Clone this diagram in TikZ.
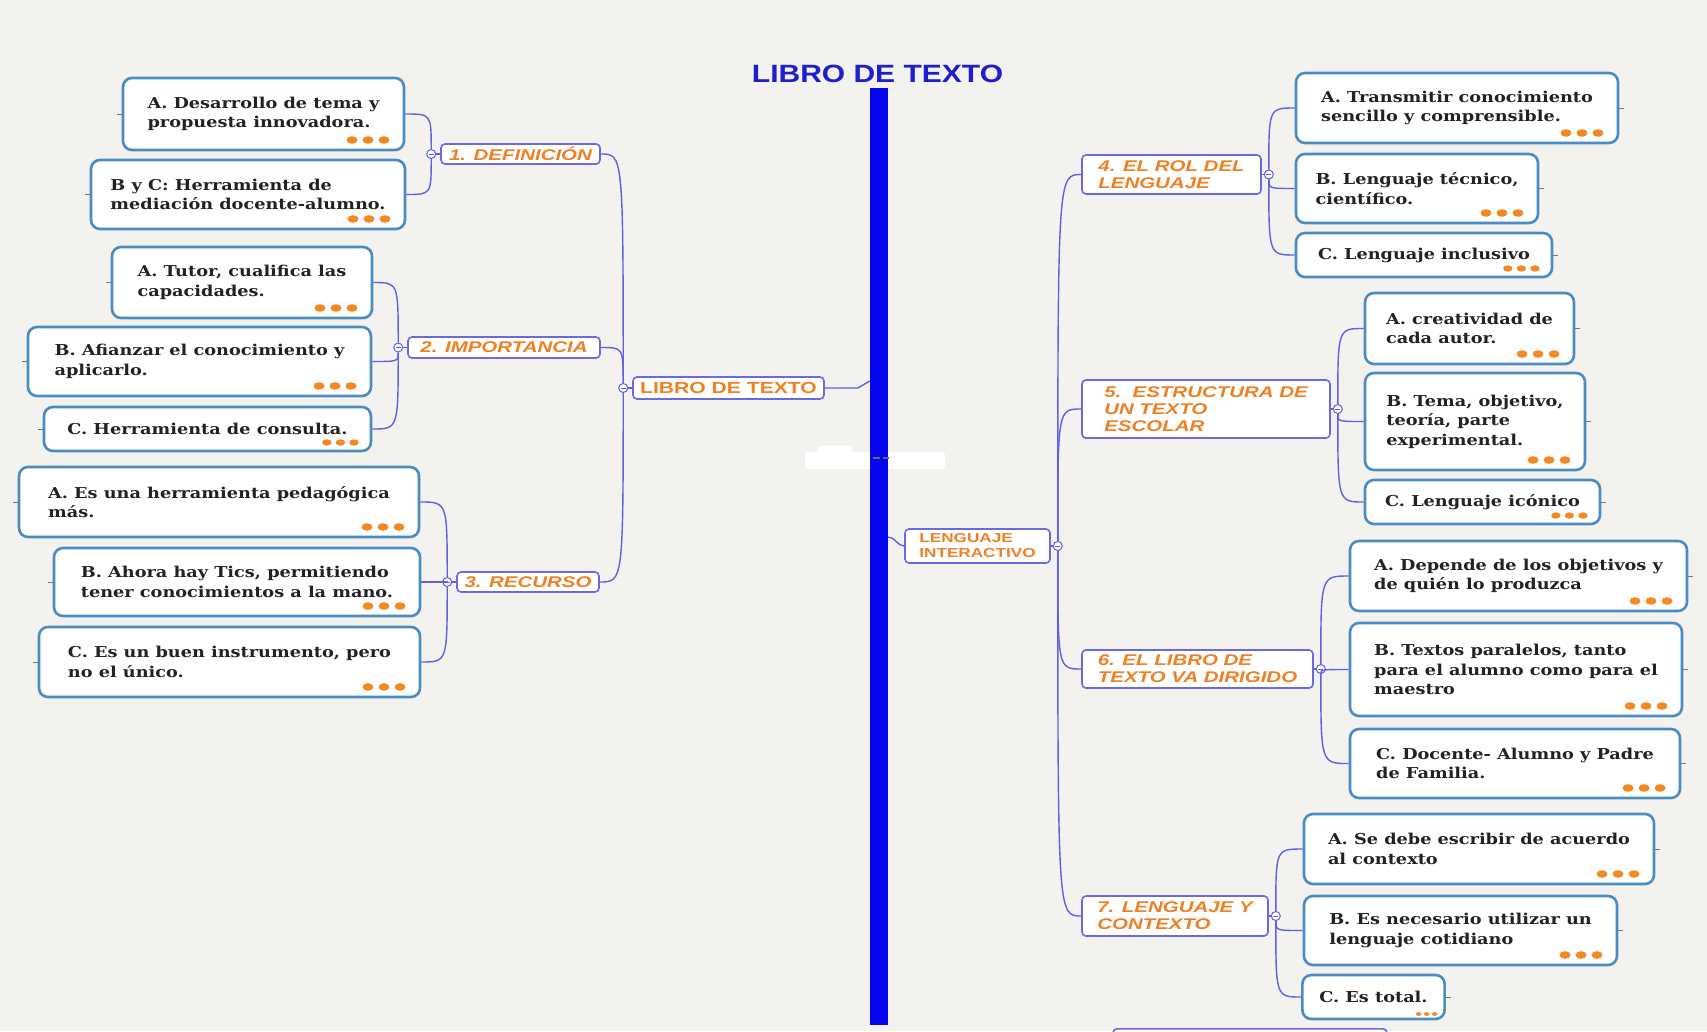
\documentclass[tikz,border=0pt]{standalone}
\usepackage{fontspec}
\newfontfamily\leaffont{DejaVu Serif}[FakeStretch=1.18]
\newfontfamily\mapfont{Liberation Sans}[FakeStretch=1.32]
\newfontfamily\titlefont{Liberation Sans}[FakeStretch=1.2]
\definecolor{paper}{RGB}{243,242,238}
\definecolor{barblue}{RGB}{5,5,240}
\definecolor{titleblue}{RGB}{30,30,205}
\definecolor{linkblue}{RGB}{95,95,230}
\definecolor{branchblue}{RGB}{105,105,228}
\definecolor{leafblue}{RGB}{72,140,195}
\definecolor{mindorange}{RGB}{240,128,36}
\definecolor{dotorange}{RGB}{242,138,36}
\definecolor{leafink}{RGB}{34,34,34}

\begin{document}
\begin{tikzpicture}[x=1pt,y=-1pt]
\tikzset{leaf/.style = {draw=leafblue, line width=2.6pt, fill=white, rounded corners=9pt,
    align=left, inner xsep=17pt, text=leafink,
    font=\leaffont\bfseries\fontsize{15}{19.6}\selectfont,
    path picture={\foreach \k in {0,1,2}
      \fill[dotorange] ([xshift={-20*#1-16*#1*\k}, yshift={10*#1}]path picture bounding box.south east)
        ellipse ({5.5*#1} and {3.8*#1});}},
  leaf/.default = 1}
\tikzset{branch/.style = {draw=branchblue, line width=1.6pt, fill=white, rounded corners=4pt,
    inner xsep=6pt, inner ysep=1pt, align=left, text=mindorange,
    font=\mapfont\bfseries\itshape\fontsize{15.5}{17}\selectfont}}
\tikzset{core/.style = {branch, font=\mapfont\bfseries\fontsize{16}{17}\selectfont}}
\tikzset{knob/.style = {circle, draw=linkblue, fill=white, line width=1pt, inner sep=0pt,
    minimum size=9pt, path picture={\draw[linkblue, line width=0.8pt]
      ([xshift=-2.5pt]path picture bounding box.center) -- ([xshift=2.5pt]path picture bounding box.center);}}}
\tikzset{link/.style = {draw=linkblue, line width=1.4pt}}
\tikzset{hvlink/.style = {link, to path={.. controls (\tikztotarget|-\tikztostart) .. (\tikztotarget)}}}
\tikzset{vhlink/.style = {link, to path={.. controls (\tikztostart|-\tikztotarget) .. (\tikztotarget)}}}
\tikzset{stub/.style = {draw=black!55, line width=0.8pt}}
\tikzset{axisbar/.style = {fill=barblue, minimum width=18pt, minimum height=937pt, inner sep=0pt}}
\tikzset{heading/.style = {text=titleblue, inner sep=0pt, font=\titlefont\bfseries\fontsize{25}{25}\selectfont}}

\useasboundingbox (0,0) rectangle (1707,1031);
\fill[paper] (0,0) rectangle (1707,1031);
\clip (0,0) rectangle (1707,1031);

% centre axis
\fill[white, rounded corners=3pt] (805,452) rectangle (945,469);
\fill[white, rounded corners=3pt] (818,446) rectangle (852,456);
\node[axisbar](axis) at (879,556.5) {};
\draw[black!60, line width=2pt] (873,458) -- (880,458) (883,458) -- (889,458);
\node[heading](ttl) at (877.5,74) {LIBRO DE TEXTO};

% left side
\node[core, minimum width=191, minimum height=22](lt) at (728.5,388) {LIBRO DE TEXTO};
\node[knob](k0) at ([xshift=-9pt]lt.west) {};
\node[branch, minimum width=159, minimum height=20](b1) at (520.5,154) {1. DEFINICIÓN};
\node[knob](k1) at ([xshift=-9pt]b1.west) {};
\node[branch, minimum width=192, minimum height=21](b2) at (504,347.5) {2. IMPORTANCIA};
\node[knob](k2) at ([xshift=-9pt]b2.west) {};
\node[branch, minimum width=142, minimum height=20](b3) at (528,582) {3. RECURSO};
\node[knob](k3) at ([xshift=-9pt]b3.west) {};

\node[leaf, minimum width=281, minimum height=72](l1a) at (263.5,114) {A. Desarrollo de tema y\\propuesta innovadora.};
\node[leaf, minimum width=314, minimum height=69](l1b) at (248,194.5) {B y C: Herramienta de\\mediación docente-alumno.};
\node[leaf, minimum width=260, minimum height=71](l2a) at (242,282.5) {A. Tutor, cualifica las\\capacidades.};
\node[leaf, minimum width=343, minimum height=69](l2b) at (199.5,361.5) {B. Afianzar el conocimiento y\\aplicarlo.};
\node[leaf=0.85, minimum width=327, minimum height=44](l2c) at (207.5,429) {C. Herramienta de consulta.};
\node[leaf, minimum width=400, minimum height=70](l3a) at (219,502) {A. Es una herramienta pedagógica\\más.};
\node[leaf, minimum width=366, minimum height=68](l3b) at (237,582) {B. Ahora hay Tics, permitiendo\\tener conocimientos a la mano.};
\node[leaf, minimum width=381, minimum height=70](l3c) at (229.5,662) {C. Es un buen instrumento, pero\\no el único.};

% right side
\node[core, font=\mapfont\bfseries\fontsize{13}{15}\selectfont, minimum width=145, minimum height=34](li) at (977.5,546) {LENGUAJE\\INTERACTIVO};
\node[knob](ki) at ([xshift=7pt]li.east) {};
\node[branch, minimum width=179, minimum height=39](r4) at (1171.5,174.5) {4. EL ROL DEL\\LENGUAJE};
\node[knob](k4) at ([xshift=7pt]r4.east) {};
\node[branch, minimum width=248, minimum height=58](r5) at (1206,409) {5.\ \ ESTRUCTURA DE\\UN TEXTO\\ESCOLAR};
\node[knob](k5) at ([xshift=7pt]r5.east) {};
\node[branch, minimum width=231, minimum height=38](r6) at (1197.5,669) {6. EL LIBRO DE\\TEXTO VA DIRIGIDO};
\node[knob](k6) at ([xshift=7pt]r6.east) {};
\node[branch, minimum width=186, minimum height=40](r7) at (1175,916) {7. LENGUAJE Y\\CONTEXTO};
\node[knob](k7) at ([xshift=7pt]r7.east) {};
\node[branch, minimum width=274, minimum height=40, anchor=north](b8) at (1250,1028) {};

\node[leaf, minimum width=322, minimum height=70](r4a) at (1457,108) {A. Transmitir conocimiento\\sencillo y comprensible.};
\node[leaf, minimum width=242, minimum height=69](r4b) at (1417,188.5) {B. Lenguaje técnico,\\científico.};
\node[leaf=0.85, minimum width=256, minimum height=44](r4c) at (1424,255) {C. Lenguaje inclusivo};
\node[leaf, minimum width=209, minimum height=71](r5a) at (1469.5,328.5) {A. creatividad de\\cada autor.};
\node[leaf, minimum width=220, minimum height=97](r5b) at (1475,421.5) {B. Tema, objetivo,\\teoría, parte\\experimental.};
\node[leaf=0.85, minimum width=235, minimum height=44](r5c) at (1482.5,502) {C. Lenguaje icónico};
\node[leaf, minimum width=337, minimum height=70](r6a) at (1518.5,576) {A. Depende de los objetivos y\\de quién lo produzca};
\node[leaf, minimum width=332, minimum height=93](r6b) at (1516,669.5) {B. Textos paralelos, tanto\\para el alumno como para el\\maestro};
\node[leaf, minimum width=330, minimum height=69](r6c) at (1515,763.5) {C. Docente- Alumno y Padre\\de Familia.};
\node[leaf, minimum width=350, minimum height=70](r7a) at (1479,849) {A. Se debe escribir de acuerdo\\al contexto};
\node[leaf, minimum width=313, minimum height=69](r7b) at (1460.5,930.5) {B. Es necesario utilizar un\\lenguaje cotidiano};
\node[leaf=0.5, minimum width=139, minimum height=44](r7c) at (1373.5,997) {C. Es total.};

% connectors, left
\draw[link] (lt.east) -- ++(33,0) -- ([yshift=7pt]axis.west |- lt.east);
\draw[link] (k0) -- (lt.west);
\draw[hvlink] (b1.east) to (k0);
\draw[hvlink] (b2.east) to (k0);
\draw[hvlink] (b3.east) to (k0);
\draw[link] (k1) -- (b1.west);
\draw[link] (k2) -- (b2.west);
\draw[link] (k3) -- (b3.west);
\draw[hvlink] (l1a.east) to (k1);
\draw[hvlink] (l1b.east) to (k1);
\draw[hvlink] (l2a.east) to (k2);
\draw[hvlink] (l2b.east) to (k2);
\draw[hvlink] (l2c.east) to (k2);
\draw[hvlink] (l3a.east) to (k3);
\draw[hvlink] (l3b.east) to (k3);
\draw[hvlink] (l3c.east) to (k3);

% connectors, right
\draw[link] ([yshift=9pt]axis.east |- li.west) to[out=0, in=180] (li.west);
\draw[link] (li.east) -- (ki);
\draw[vhlink] (ki) to (r4.west);
\draw[vhlink] (ki) to (r5.west);
\draw[vhlink] (ki) to (r6.west);
\draw[vhlink] (ki) to (r7.west);
\draw[link] (r4.east) -- (k4);
\draw[link] (r5.east) -- (k5);
\draw[link] (r6.east) -- (k6);
\draw[link] (r7.east) -- (k7);
\draw[vhlink] (k4) to (r4a.west);
\draw[vhlink] (k4) to (r4b.west);
\draw[vhlink] (k4) to (r4c.west);
\draw[vhlink] (k5) to (r5a.west);
\draw[vhlink] (k5) to (r5b.west);
\draw[vhlink] (k5) to (r5c.west);
\draw[vhlink] (k6) to (r6a.west);
\draw[vhlink] (k6) to (r6b.west);
\draw[vhlink] (k6) to (r6c.west);
\draw[vhlink] (k7) to (r7a.west);
\draw[vhlink] (k7) to (r7b.west);
\draw[vhlink] (k7) to (r7c.west);

% small stubs on the free side of the leaves
\foreach \n in {l1a,l1b,l2a,l2b,l2c,l3a,l3b,l3c}
  \draw[stub] (\n.west) -- ++(-5,0);
\foreach \n in {r4a,r4b,r4c,r5a,r5b,r5c,r6a,r6b,r6c,r7a,r7b,r7c}
  \draw[stub] (\n.east) -- ++(5,0);
\end{tikzpicture}
\end{document}
